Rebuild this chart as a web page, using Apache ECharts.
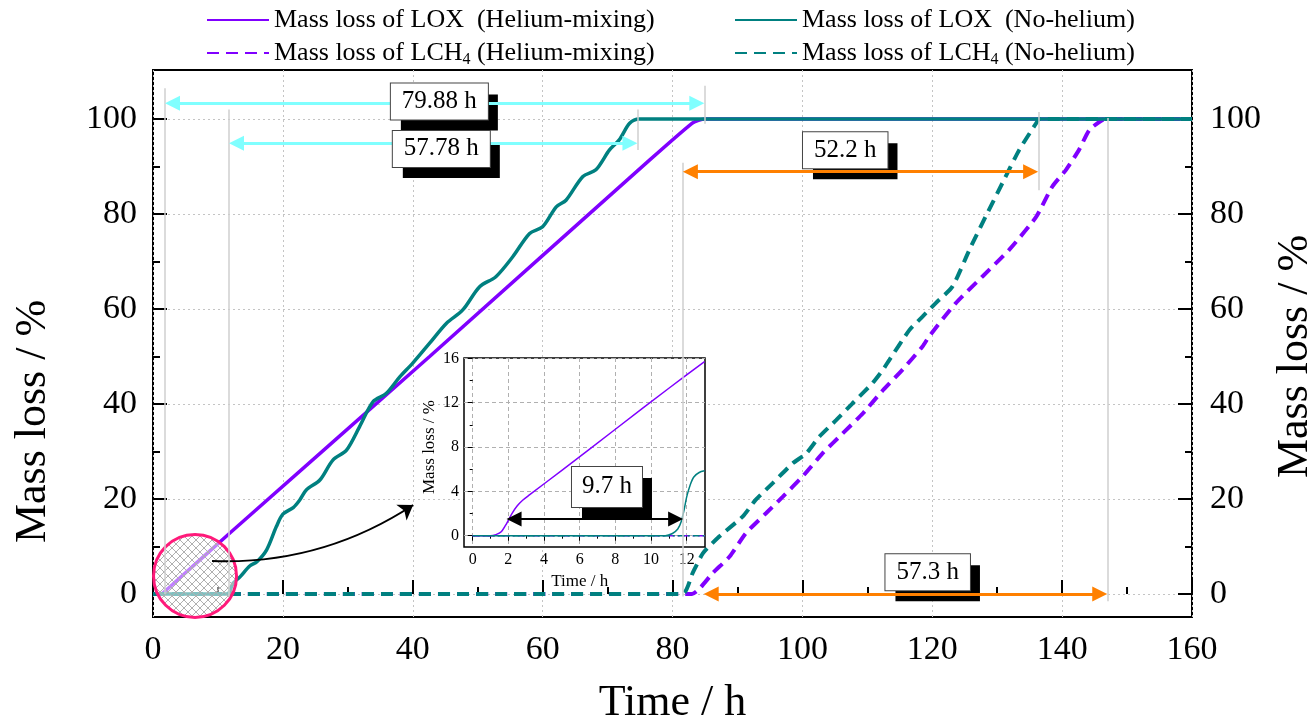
<!DOCTYPE html>
<html><head><meta charset="utf-8">
<script src="https://cdn.jsdelivr.net/npm/echarts@6/dist/echarts.min.js"></script>
<style>html,body{margin:0;padding:0;background:#fff}#c{width:1314px;height:724px}</style>
</head><body><div id="c"></div>
<script>
// ---------------- data ----------------
const legendNames = [
  'Mass loss of LOX  (Helium-mixing)',
  'Mass loss of LCH4 (Helium-mixing)',
  'Mass loss of LOX  (No-helium)',
  'Mass loss of LCH4 (No-helium)'
];
const xTickLabels = ['0','20','40','60','80','100','120','140','160'];
const yTickLabels = ['0','20','40','60','80','100'];

const loxHelium = [[0,0],[1.2,0],[2,0.8],[3,2.0],[11.8,12.8],[42.6,50],[76.5,91.4],[83,99.1],[84,99.7],[85,100],[160,100]];
const loxNoHelium = [[0,0],[11.3,0],[11.8,0.5],[12.3,2.2],[13.4,3.6],[14.9,5.9],[16,6.8],[17.5,9.3],[19,14.2],[20,16.8],[21.6,18.2],[22.6,19.8],[23.6,21.9],[25.7,24],[27.7,28.2],[29.8,30.3],[31.8,35.2],[33.9,40.5],[35.9,42.2],[38,45.7],[40,48.6],[42.6,52.8],[45.2,57],[47.7,59.8],[50.3,64.7],[52.8,66.8],[55.4,71],[58,75.9],[60,77.3],[62.1,81.5],[63.6,82.9],[66.2,87.9],[68.2,89.3],[70.3,93.5],[71.8,95.6],[73.4,99.1],[74.9,100],[160,100]];
const lch4Helium = [[0,0],[83,0],[84.2,1.2],[86.2,4.4],[88.8,7.9],[91.3,12.8],[94.4,17],[97,20.5],[100,24.7],[103.1,29.6],[106.2,33.8],[109.3,38],[112.4,42.9],[115.4,47.2],[118.5,52.1],[119.5,54.2],[123.6,61.2],[127.7,66.8],[131.8,72.4],[136,79.4],[138.5,85.8],[140.6,89.3],[142.6,93.5],[144.2,97.7],[146.2,99.8],[147,100],[160,100]];
const lch4NoHelium = [[0,0],[81.5,0],[83.1,4.4],[84.7,8.6],[87.2,12.1],[90.8,16.3],[92.8,19.8],[95.4,23.3],[98.5,27.5],[100.6,29.6],[102.6,33.1],[105.2,36.6],[107.7,40.1],[110.8,44.4],[112.4,47.2],[113.4,49.3],[116.5,55.6],[118.5,58.4],[120.5,61.2],[123.1,64.7],[125.7,72.4],[128.2,79.4],[130.8,86.5],[133.4,93.5],[136,99.1],[136.5,100],[160,100]];

// inset (zoom of the first hours)
const insetLoxHelium = [[0,0],[1.0,0],[1.3,0.1],[1.6,0.35],[1.9,1.1],[2.2,2.0],[2.5,2.7],[2.8,3.2],[3.2,3.7],[5,5.9],[8,9.6],[11,13.3],[13,15.7]];
const insetLoxNoHelium = [[0,0],[10.8,0],[11.2,0.2],[11.5,0.6],[11.7,1.3],[11.85,2.3],[12.0,3.5],[12.2,4.6],[12.4,5.3],[12.7,5.7],[13,5.85]];
const insetLch4 = [[0,0],[13,0]];

// annotations (data coordinates; arrows given by their tips)
const boxLabels = ['79.88 h','57.78 h','52.2 h','57.3 h'];
const boxCenters = [[44.1,103.7],[44.4,93.7],[106.6,93.4],[119.3,4.6]];
const insetBoxLabel = '9.7 h';
const insetBoxCenter = [7.53,4.4];
const cyanArrows = [[[1.85,103.3],[84.9,103.3]],[[11.7,94.9],[74.6,94.9]]];
const orangeArrows = [[[81.6,88.9],[136.3,88.9]],[[84.8,0],[146.95,0]]];
const greyLines = [[[1.85,106.5],[1.85,0]],[[11.6,102],[11.6,-0.5]],[[74.6,102],[74.6,93.5]],[[84.9,107],[84.9,99]],[[81.6,90.8],[81.6,-0.5]],[[136.4,101.5],[136.4,85]],[[146.95,100.2],[146.95,-1.5]]];
const insetArrow = [[[1.9,1.5],[11.8,1.5]]];
const circleCenter = [6.47,3.8];
const curveArrow = [[9.09,6.95],[40.06,18.74]];

// ---------------- layout ----------------
const FONT = '"Liberation Serif","Times New Roman",serif';
const PURPLE = '#8000FF', TEAL = '#008080', ORANGE = '#FF8000', CYAN = '#80FFFF', PINK = '#FF1A7A', GREY = '#cfcfcf';
const BOX = {l:153, r:1192, t:70, b:617};
const BAND = {t:119, b:594};
const pxPerX = (BOX.r - BOX.l) / 160;
const pxPerY = (BAND.b - BAND.t) / 100;
const boxYMin = -(BOX.b - BAND.b) / pxPerY, boxYMax = 100 + (BAND.t - BOX.t) / pxPerY;
const IBOX = {l:464, r:705, t:358, b:547};
const IBAND = {l:472.7, r:686.7, t:358.3, b:535.7};
const ipx = (IBAND.r - IBAND.l) / 12, ipy = (IBAND.b - IBAND.t) / 16;
const iXMin = -(IBAND.l - IBOX.l) / ipx, iXMax = 12 + (IBOX.r - IBAND.r) / ipx;
const iYMin = -(IBOX.b - IBAND.b) / ipy, iYMax = 16 + (IBAND.t - IBOX.t) / ipy;
const HEAD = 15;

const chart = echarts.init(document.getElementById('c'), null, {renderer:'canvas'});

const pc = document.createElement('canvas'); pc.width = 8; pc.height = 8;
const g = pc.getContext('2d');
g.fillStyle = 'rgba(255,255,255,0.5)'; g.fillRect(0,0,8,8);
g.strokeStyle = '#b0b0b0'; g.lineWidth = 1;
g.beginPath(); g.moveTo(0,0); g.lineTo(8,8); g.moveTo(8,0); g.lineTo(0,8); g.stroke();

function pairs(list){ return list.map(p => [{coord:p[0]},{coord:p[1]}]); }
// symbols are centred on the line ends: pull the ends in by half a head so the tips land on the given points
function tips(list, unit){ const d = HEAD / 2 / unit; return list.map(p => [{coord:[p[0][0]+d, p[0][1]]},{coord:[p[1][0]-d, p[1][1]]}]); }
const legendFmt = n => n.indexOf('LCH4') >= 0 ? '{n|' + n.replace('LCH4','LCH}{s|4}{n|') + '}' : '{n|' + n + '}';
const legendText = {fontFamily:FONT, fontSize:26, color:'#000', rich:{
  n:{fontFamily:FONT, fontSize:26, color:'#000', lineHeight:30},
  s:{fontFamily:FONT, fontSize:16, color:'#000', lineHeight:30, verticalAlign:'bottom'}}};
const legendBase = {orient:'vertical', top:2, itemGap:7, itemWidth:62, itemHeight:14, selectedMode:false,
  itemStyle:{opacity:0}, formatter:legendFmt, textStyle:legendText};

const mainTick = {show:true, inside:true, length:14, lineStyle:{color:'#000', width:2}};
const mainMinor = {show:true, splitNumber:2, length:7, lineStyle:{color:'#000', width:2}};
const mainLabel = {fontFamily:FONT, fontSize:34, color:'#000', margin:16};
const dotted = {show:true, lineStyle:{color:'#c4c4c4', width:1, type:[2,3]}};
const insetTick = {show:true, inside:false, length:5, lineStyle:{color:'#000', width:1}};
const insetMinor = {show:true, splitNumber:2, length:3, lineStyle:{color:'#000', width:1}};
const insetLabel = {fontFamily:FONT, fontSize:16, color:'#000', margin:5};
const insetSplit = {show:true, lineStyle:{color:'#b0b0b0', width:1, type:[4,3]}};

const boxLabelStyle = {show:true, position:'inside', formatter:'{b}', fontFamily:FONT, fontSize:25, lineHeight:28, color:'#000', padding:[4,11]};
const hidden = {color:'rgba(0,0,0,0)', opacity:1};
const fixedGrid = {containLabel:false, outerBoundsMode:'none'};

const option = {
  animation:false,
  backgroundColor:'#fff',
  legend:[
    Object.assign({}, legendBase, {left:201, data:[legendNames[0], legendNames[1]]}),
    Object.assign({}, legendBase, {left:729, data:[legendNames[2], legendNames[3]]})
  ],
  grid:[
    Object.assign({left:BOX.l, right:1314-BOX.r, top:BOX.t, bottom:724-BOX.b, show:true, borderColor:'#000', borderWidth:2, backgroundColor:'rgba(0,0,0,0)'}, fixedGrid),
    Object.assign({left:BOX.l, right:1314-BOX.r, top:BAND.t, bottom:724-BAND.b}, fixedGrid),
    Object.assign({left:IBOX.l, top:IBOX.t, width:IBOX.r-IBOX.l, height:IBOX.b-IBOX.t, show:true, borderColor:'#000', borderWidth:1.5, backgroundColor:'#fff', z:10}, fixedGrid),
    Object.assign({left:IBOX.l, top:IBAND.t, width:IBOX.r-IBOX.l, height:IBAND.b-IBAND.t, z:10}, fixedGrid),
    Object.assign({left:IBAND.l, top:IBOX.t, width:IBAND.r-IBAND.l, height:IBOX.b-IBOX.t, z:10}, fixedGrid)
  ],
  xAxis:[
    {gridIndex:0, type:'value', min:0, max:160, interval:20, axisLine:{show:false}, axisTick:mainTick, minorTick:mainMinor,
     axisLabel:Object.assign({}, mainLabel, {formatter:(v,i)=>xTickLabels[i]}), splitLine:dotted,
     name:'Time / h', nameLocation:'middle', nameGap:64, nameTextStyle:{fontFamily:FONT, fontSize:44, color:'#000'}},
    {gridIndex:1, type:'value', min:0, max:160, show:false},
    {gridIndex:2, type:'value', min:iXMin, max:iXMax, show:false},
    {gridIndex:3, type:'value', min:iXMin, max:iXMax, show:false},
    {gridIndex:4, type:'value', min:0, max:12, interval:2, z:11, axisLine:{show:false}, axisTick:insetTick, minorTick:insetMinor,
     axisLabel:insetLabel, splitLine:insetSplit,
     name:'Time / h', nameLocation:'middle', nameGap:26, nameTextStyle:{fontFamily:FONT, fontSize:17, color:'#000'}}
  ],
  yAxis:[
    {gridIndex:0, type:'value', min:boxYMin, max:boxYMax, show:false},
    {gridIndex:1, type:'value', min:0, max:100, interval:20, position:'left', axisLine:{show:false}, axisTick:mainTick, minorTick:mainMinor,
     axisLabel:Object.assign({}, mainLabel, {formatter:(v,i)=>yTickLabels[i]}), splitLine:dotted,
     name:'Mass loss / %', nameLocation:'middle', nameRotate:90, nameGap:98, nameTextStyle:{fontFamily:FONT, fontSize:44, color:'#000', padding:[0,130,0,0]}},
    {gridIndex:1, type:'value', min:0, max:100, interval:20, position:'right', axisLine:{show:false}, axisTick:mainTick, minorTick:mainMinor,
     axisLabel:Object.assign({}, mainLabel, {margin:18, formatter:(v,i)=>yTickLabels[i]}), splitLine:{show:false},
     name:'Mass loss / %', nameLocation:'middle', nameRotate:90, nameGap:81, nameTextStyle:{fontFamily:FONT, fontSize:44, color:'#000'}},
    {gridIndex:2, type:'value', min:iYMin, max:iYMax, show:false},
    {gridIndex:3, type:'value', min:0, max:16, interval:4, z:11, axisLine:{show:false}, axisTick:insetTick, minorTick:insetMinor,
     axisLabel:insetLabel, splitLine:insetSplit,
     name:'Mass loss / %', nameLocation:'middle', nameRotate:90, nameGap:26, nameTextStyle:{fontFamily:FONT, fontSize:17, color:'#000'}},
    {gridIndex:4, type:'value', min:iYMin, max:iYMax, show:false}
  ],
  series:[
    {name:legendNames[0], type:'line', xAxisIndex:0, yAxisIndex:0, data:loxHelium, symbol:'none', showSymbol:false, smooth:0.2, z:3,
     color:PURPLE, lineStyle:{color:PURPLE, width:3.5}},
    {name:legendNames[1], type:'line', xAxisIndex:0, yAxisIndex:0, data:lch4Helium, symbol:'none', showSymbol:false, smooth:0.2, z:3,
     color:PURPLE, lineStyle:{color:PURPLE, width:4, type:[12,7]}},
    {name:legendNames[2], type:'line', xAxisIndex:0, yAxisIndex:0, data:loxNoHelium, symbol:'none', showSymbol:false, smooth:0.3, z:3,
     color:TEAL, lineStyle:{color:TEAL, width:3.5}},
    {name:legendNames[3], type:'line', xAxisIndex:0, yAxisIndex:0, data:lch4NoHelium, symbol:'none', showSymbol:false, smooth:0.2, z:3,
     color:TEAL, lineStyle:{color:TEAL, width:4, type:[12,7]}},
    // inset
    {name:'inset LCH4 He', type:'line', xAxisIndex:2, yAxisIndex:3, data:insetLch4, symbol:'none', z:12,
     lineStyle:{color:PURPLE, width:1.5, type:[7,3,2,3]}},
    {name:'inset LCH4 No', type:'line', xAxisIndex:2, yAxisIndex:3, data:insetLch4, symbol:'none', z:12,
     lineStyle:{color:TEAL, width:1.5, type:[7,3,2,3], dashOffset:5}},
    {name:'inset LOX He', type:'line', xAxisIndex:2, yAxisIndex:3, data:insetLoxHelium, symbol:'none', smooth:0.3, z:13,
     lineStyle:{color:PURPLE, width:1.5}},
    {name:'inset LOX No', type:'line', xAxisIndex:2, yAxisIndex:3, data:insetLoxNoHelium, symbol:'none', smooth:0.3, z:13,
     lineStyle:{color:TEAL, width:1.5},
     markLine:{z:30, silent:true, animation:false, symbol:['triangle','triangle'], symbolSize:HEAD, label:{show:false},
       lineStyle:{color:'#000', width:2, type:'solid'}, data:tips(insetArrow, ipx)}},
    // annotation lines
    {name:'grey', type:'line', xAxisIndex:0, yAxisIndex:0, data:[], z:29,
     markLine:{z:29, silent:true, animation:false, symbol:['none','none'], label:{show:false},
       lineStyle:{color:GREY, width:1.5, type:'solid'}, data:pairs(greyLines)}},
    {name:'cyan', type:'line', xAxisIndex:0, yAxisIndex:0, data:[], z:30,
     markLine:{z:30, silent:true, animation:false, symbol:['triangle','triangle'], symbolSize:HEAD, label:{show:false},
       lineStyle:{color:CYAN, width:3, type:'solid'}, data:tips(cyanArrows, pxPerX)}},
    {name:'orange', type:'line', xAxisIndex:0, yAxisIndex:0, data:[], z:30,
     markLine:{z:30, silent:true, animation:false, symbol:['triangle','triangle'], symbolSize:HEAD, label:{show:false},
       lineStyle:{color:ORANGE, width:3, type:'solid'}, data:tips(orangeArrows, pxPerX)}},
    // label box shadows and boxes
    {name:'boxShadow', type:'scatter', xAxisIndex:0, yAxisIndex:0, z:25, symbolSize:1, itemStyle:hidden,
     data:boxLabels.map((t,i)=>({name:t, value:boxCenters[i]})),
     label:Object.assign({}, boxLabelStyle, {color:'#000', backgroundColor:'#000', offset:[10,11]})},
    {name:'box', type:'scatter', xAxisIndex:0, yAxisIndex:0, z:35, symbolSize:1, itemStyle:hidden,
     data:boxLabels.map((t,i)=>({name:t, value:boxCenters[i]})),
     label:Object.assign({}, boxLabelStyle, {backgroundColor:'#fff', borderColor:'#444', borderWidth:1})},
    {name:'insetBoxShadow', type:'scatter', xAxisIndex:2, yAxisIndex:3, z:25, symbolSize:1, itemStyle:hidden,
     data:[{name:insetBoxLabel, value:insetBoxCenter}],
     label:Object.assign({}, boxLabelStyle, {padding:[6,10], lineHeight:28, color:'#000', backgroundColor:'#000', offset:[10,11]})},
    {name:'insetBox', type:'scatter', xAxisIndex:2, yAxisIndex:3, z:35, symbolSize:1, itemStyle:hidden,
     data:[{name:insetBoxLabel, value:insetBoxCenter}],
     label:Object.assign({}, boxLabelStyle, {padding:[6,10], lineHeight:28, backgroundColor:'#fff', borderColor:'#444', borderWidth:1})},
    // curved arrow
    {name:'curve', type:'lines', coordinateSystem:'cartesian2d', xAxisIndex:0, yAxisIndex:0, z:16, symbol:['none','arrow'], symbolSize:14,
     lineStyle:{color:'#000', width:2, curveness:-0.16, opacity:1}, data:[{coords:curveArrow}]}
  ]
};
chart.setOption(option);

// hatched circle placed through the chart's own scale
const cp = chart.convertToPixel({xAxisIndex:0, yAxisIndex:0}, circleCenter);
chart.setOption({graphic:[{type:'circle', z:15, shape:{cx:cp[0], cy:cp[1], r:41.5},
  style:{fill:{image:pc, repeat:'repeat'}, stroke:PINK, lineWidth:3}}]});
</script>
</body></html>
